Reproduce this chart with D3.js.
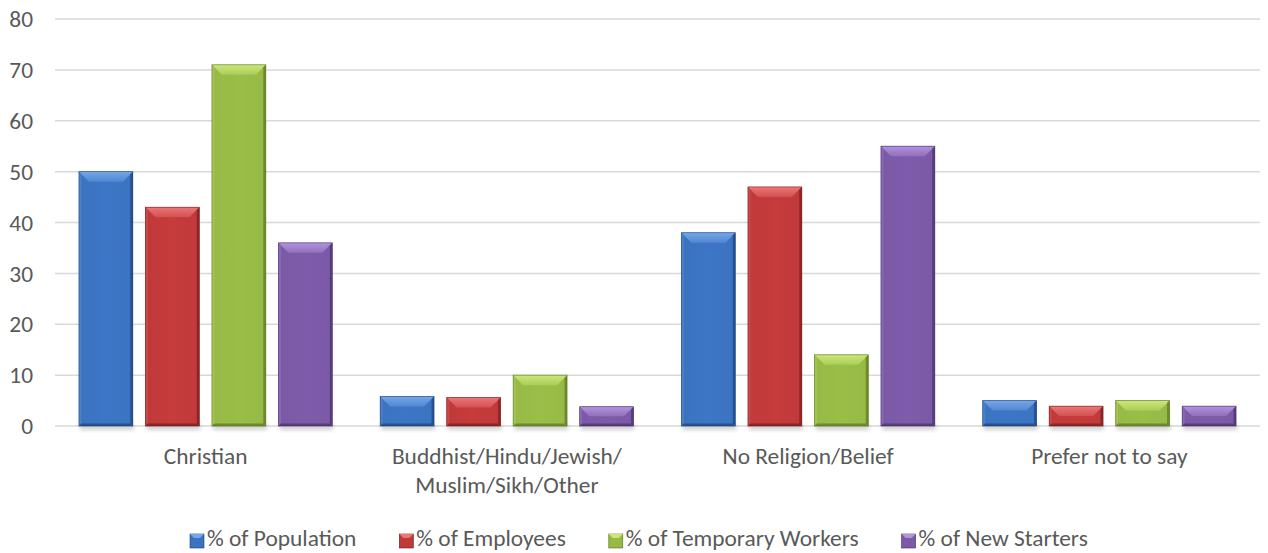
<!DOCTYPE html>
<html><head><meta charset="utf-8">
<script src="https://cdn.jsdelivr.net/npm/d3@7"></script>
<style>body{margin:0;background:#fff;}svg{display:block;font-family:Carlito,Calibri,Lato,sans-serif;}</style>
</head><body><svg id="c" width="1268" height="553"></svg>
<script>
const categories = [["Christian"], ["Buddhist/Hindu/Jewish/", "Muslim/Sikh/Other"], ["No Religion/Belief"], ["Prefer not to say"]];
const seriesNames = ["% of Population", "% of Employees", "% of Temporary Workers", "% of New Starters"];
const population = [50, 5.8, 38, 5];
const employees = [43, 5.6, 47, 3.9];
const temporary = [71, 10, 14, 5];
const newStarters = [36, 3.8, 55, 3.9];
const yTicks = [0, 10, 20, 30, 40, 50, 60, 70, 80];

const series = [population, employees, temporary, newStarters];
const colors = [
  {main:"#3b73c0", light:"#74a7ea", dark:"#24518f", edge:"#1d3f70"},
  {main:"#c0393a", light:"#ec7676", dark:"#8e2527", edge:"#6d1a1c"},
  {main:"#97b946", light:"#cbe877", dark:"#6d8a2c", edge:"#55701f"},
  {main:"#7b59a6", light:"#b193de", dark:"#573d7c", edge:"#432d62"}
];
const FS = 23.4;
const txt = "#595959";

const svg = d3.select("#c");
const defs = svg.append("defs");
const m = {left:55, right:1260, top:19, bottom:426};
const x0 = d3.scaleBand().domain(d3.range(categories.length)).range([m.left, m.right]);
const x1 = d3.scaleBand().domain(d3.range(series.length)).range([0, x0.bandwidth()]).paddingInner(0.19).paddingOuter(0.36);
const y = d3.scaleLinear().domain([0, 80]).range([m.bottom, m.top]);

colors.forEach((c,i)=>{
  const g = defs.append("linearGradient").attr("id","face"+i).attr("x1",0).attr("x2",1).attr("y1",0).attr("y2",0);
  g.append("stop").attr("offset","0%").attr("stop-color",c.main);
  g.append("stop").attr("offset","50%").attr("stop-color",d3.color(c.main).brighter(0.08));
  g.append("stop").attr("offset","100%").attr("stop-color",c.main);
  const t = defs.append("linearGradient").attr("id","top"+i).attr("x1",0).attr("x2",0).attr("y1",0).attr("y2",1);
  t.append("stop").attr("offset","0%").attr("stop-color",c.light);
  t.append("stop").attr("offset","100%").attr("stop-color",d3.interpolateRgb(c.light,c.main)(0.6));
});
const sh = defs.append("filter").attr("id","blur").attr("x","-20%").attr("y","-50%").attr("width","140%").attr("height","200%");
sh.append("feGaussianBlur").attr("stdDeviation",2);

// grid
svg.append("g").selectAll("line").data(yTicks).join("line")
  .attr("x1",m.left).attr("x2",m.right).attr("y1",d=>y(d)).attr("y2",d=>y(d))
  .attr("stroke","#d9d9d9").attr("stroke-width",1.5);

// y labels
svg.append("g").selectAll("text").data(yTicks).join("text")
  .attr("x",33).attr("y",d=>y(d)).attr("dy","0.35em").attr("text-anchor","end")
  .attr("fill",txt).attr("font-size",FS).text(d=>d);

// bars
const gBars = svg.append("g");
series.forEach((vals,si)=>{
  vals.forEach((v,ci)=>{
    const xa = x0(ci)+x1(si), w = x1.bandwidth(), xb = xa+w;
    const yt = y(v), yb = y(0), h = yb-yt;
    const b = Math.min(10, h*0.5);
    const s = 2.5;
    const c = colors[si];
    const g = gBars.append("g");
    g.append("rect").attr("x",xa+1).attr("y",yb-2).attr("width",w).attr("height",6).attr("fill","#000").attr("opacity",0.18).attr("filter","url(#blur)");
    g.append("rect").attr("x",xa).attr("y",yt).attr("width",w).attr("height",h).attr("fill","url(#face"+si+")");
    g.append("path").attr("d",`M${xa},${yt}L${xb},${yt}L${xb-b},${yt+b}L${xa+b},${yt+b}Z`).attr("fill","url(#top"+si+")");
    g.append("path").attr("d",`M${xa},${yt}L${xa+s},${yt+s}L${xa+s},${yb-s}L${xa},${yb}Z`).attr("fill",d3.interpolateRgb(c.main,c.light)(0.25));
    g.append("path").attr("d",`M${xb},${yt}L${xb-s},${yt+s}L${xb-s},${yb-s}L${xb},${yb}Z`).attr("fill",c.dark);
    g.append("path").attr("d",`M${xa},${yb}L${xa+s},${yb-s}L${xb-s},${yb-s}L${xb},${yb}Z`).attr("fill",c.dark);
    g.append("rect").attr("x",xa).attr("y",yt).attr("width",w).attr("height",h).attr("fill","none").attr("stroke",c.edge).attr("stroke-width",0.8).attr("stroke-opacity",0.7);
  });
});

// category labels
const gc = svg.append("g");
categories.forEach((lines,ci)=>{
  const cx = x0(ci)+x0.bandwidth()/2;
  const t = gc.append("text").attr("x",cx).attr("y",464).attr("text-anchor","middle").attr("fill",txt).attr("font-size",FS);
  lines.forEach((l,li)=>t.append("tspan").attr("x",cx).attr("dy",li?28.5:0).text(l));
});

// legend
const lg = svg.append("g");
let lx = 190;
seriesNames.forEach((n,i)=>{
  const c = colors[i];
  const gx = lx, gy = 534, sz = 14;
  lg.append("rect").attr("x",gx).attr("y",gy).attr("width",sz).attr("height",sz).attr("fill",c.main).attr("stroke",c.edge).attr("stroke-width",0.6);
  lg.append("path").attr("d",`M${gx},${gy}L${gx+sz},${gy}L${gx+sz-4},${gy+4}L${gx+4},${gy+4}Z`).attr("fill",c.light);
  const t = lg.append("text").attr("x",gx+sz+3).attr("y",546).attr("fill",txt).attr("font-size",FS).text(n);
  lx = gx + sz + 3 + t.node().getComputedTextLength() + 43;
});
</script></body></html>
